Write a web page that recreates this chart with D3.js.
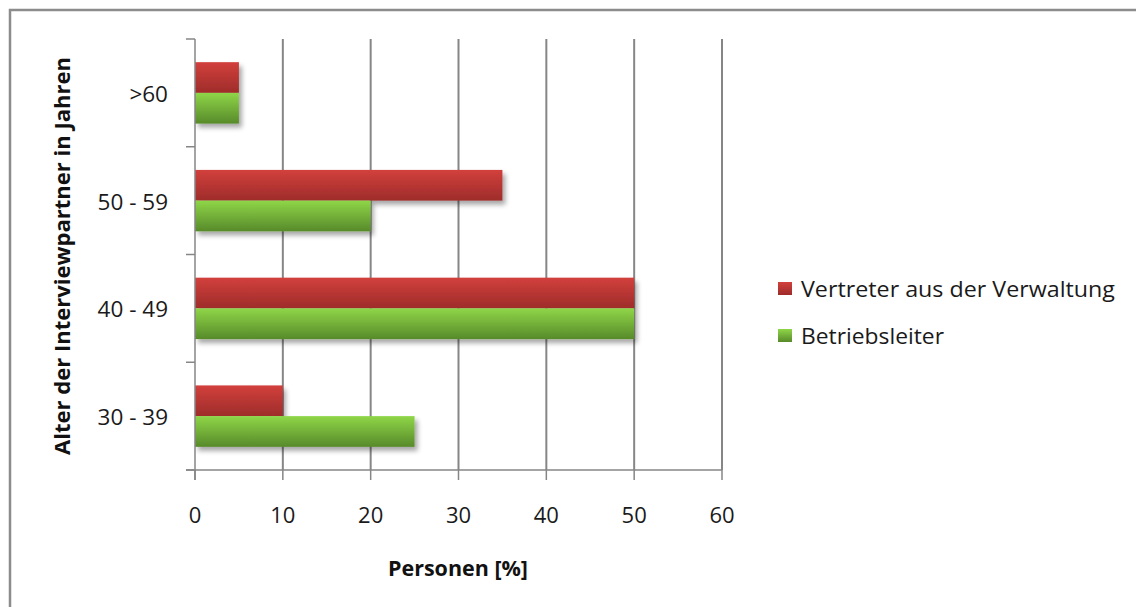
<!DOCTYPE html>
<html><head><meta charset="utf-8">
<script src="https://cdn.jsdelivr.net/npm/d3@7"></script>
<style>body{margin:0;background:#fff;} svg{display:block;font-family:"Open Sans",sans-serif;}</style>
</head><body>
<script>
const categories = [">60", "50 - 59", "40 - 49", "30 - 39"];
const seriesNames = ["Vertreter aus der Verwaltung", "Betriebsleiter"];
const verwaltung = [5, 35, 50, 10];
const betriebsleiter = [5, 20, 50, 25];
const xTicks = [0, 10, 20, 30, 40, 50, 60];
const xTitle = "Personen [%]";
const yTitle = "Alter der Interviewpartner in Jahren";

(function(){
const W = 1136, H = 607;
const svg = d3.select("body").append("svg").attr("width", W).attr("height", H);
const defs = svg.append("defs");
function grad(id, c1, c2) {
  const g = defs.append("linearGradient").attr("id", id).attr("x1", 0).attr("y1", 0).attr("x2", 0).attr("y2", 1);
  g.append("stop").attr("offset", "0%").attr("stop-color", c1);
  g.append("stop").attr("offset", "100%").attr("stop-color", c2);
}
grad("gRed", "#d2403c", "#9e2c2a");
grad("gGreen", "#8fd648", "#578a2a");
const f = defs.append("filter").attr("id", "shadow").attr("x", "-10%").attr("y", "-20%").attr("width", "130%").attr("height", "160%");
f.append("feGaussianBlur").attr("in", "SourceAlpha").attr("stdDeviation", 2.5);
f.append("feOffset").attr("dx", 3).attr("dy", 4).attr("result", "ob");
f.append("feComponentTransfer").append("feFuncA").attr("type", "linear").attr("slope", 0.35);
const fm = f.append("feMerge"); fm.append("feMergeNode"); fm.append("feMergeNode").attr("in", "SourceGraphic");

// frame
svg.append("path").attr("d", `M10,${H} V10 H${W}`).attr("fill", "none").attr("stroke", "#8c8c8c").attr("stroke-width", 2.5);

const pL = 195, pR = 722, pT = 39, pB = 470;
const x = d3.scaleLinear().domain([0, 60]).range([pL, pR]);
const y = d3.scaleBand().domain(categories).range([pT, pB]).paddingInner(0.43).paddingOuter(0.215);
const colors = ["url(#gRed)", "url(#gGreen)"];
const inner = d3.scaleBand().domain([0, 1]).range([0, y.bandwidth()]);

// gridlines
svg.append("g").selectAll("line").data(xTicks.slice(1)).join("line")
  .attr("x1", d => x(d)).attr("x2", d => x(d)).attr("y1", pT).attr("y2", pB)
  .attr("stroke", "#868686").attr("stroke-width", 2);

// bars
const data = categories.map((c, i) => ({c, vals: [verwaltung[i], betriebsleiter[i]]}));
const bars = svg.append("g");
data.forEach(d => {
  const g = bars.append("g").attr("filter", "url(#shadow)");
  d.vals.forEach((v, j) => {
    g.append("rect").attr("x", x(0)).attr("y", y(d.c) + inner(j))
      .attr("width", x(v) - x(0)).attr("height", inner.bandwidth())
      .attr("fill", colors[j]);
  });
});

// y axis
const yAxisG = svg.append("g");
yAxisG.append("line").attr("x1", pL).attr("x2", pL).attr("y1", pT).attr("y2", pB + 10).attr("stroke", "#868686").attr("stroke-width", 1.5);
const yTickPos = categories.map(c => y(c) - y.step() * y.paddingInner() / 2).concat([pB]);
yAxisG.selectAll("line.t").data(yTickPos).join("line").attr("class", "t")
  .attr("x1", pL - 9).attr("x2", pL).attr("y1", d => d).attr("y2", d => d)
  .attr("stroke", "#868686").attr("stroke-width", 1.5);
yAxisG.selectAll("text").data(categories).join("text")
  .attr("x", 168).attr("y", d => y(d) + y.bandwidth() / 2 + 1).attr("dy", "0.35em")
  .attr("text-anchor", "end").attr("font-size", 22.5).attr("fill", "#1a1a1a").text(d => d);

// x axis
const xAxisG = svg.append("g");
xAxisG.append("line").attr("x1", pL - 9).attr("x2", pR).attr("y1", pB).attr("y2", pB).attr("stroke", "#868686").attr("stroke-width", 1.5);
xAxisG.selectAll("line.t").data(xTicks).join("line").attr("class", "t")
  .attr("x1", d => x(d)).attr("x2", d => x(d)).attr("y1", pB).attr("y2", pB + 10)
  .attr("stroke", "#868686").attr("stroke-width", 1.5);
xAxisG.selectAll("text").data(xTicks).join("text")
  .attr("x", d => x(d)).attr("y", 523).attr("text-anchor", "middle")
  .attr("font-size", 22).attr("fill", "#1a1a1a").text(d => d);

// titles
svg.append("text").attr("x", 458).attr("y", 576).attr("text-anchor", "middle")
  .attr("font-size", 22).attr("font-weight", "bold").attr("fill", "#111")
  .attr("textLength", 140).attr("lengthAdjust", "spacingAndGlyphs").text(xTitle);
svg.append("text").attr("transform", "translate(70,256) rotate(-90)").attr("text-anchor", "middle")
  .attr("font-size", 22).attr("font-weight", "bold").attr("fill", "#111")
  .attr("textLength", 398).attr("lengthAdjust", "spacingAndGlyphs").text(yTitle);

// legend
const leg = svg.append("g");
const legLens = [314, 143];
seriesNames.forEach((s, i) => {
  const yy = 289 + i * 47;
  leg.append("rect").attr("x", 778).attr("y", yy - 7).attr("width", 14).attr("height", 13).attr("fill", colors[i]);
  leg.append("text").attr("x", 801).attr("y", yy + 8).attr("font-size", 22).attr("fill", "#1a1a1a")
    .attr("textLength", legLens[i]).attr("lengthAdjust", "spacingAndGlyphs").text(s);
});
})();
</script>
</body></html>
